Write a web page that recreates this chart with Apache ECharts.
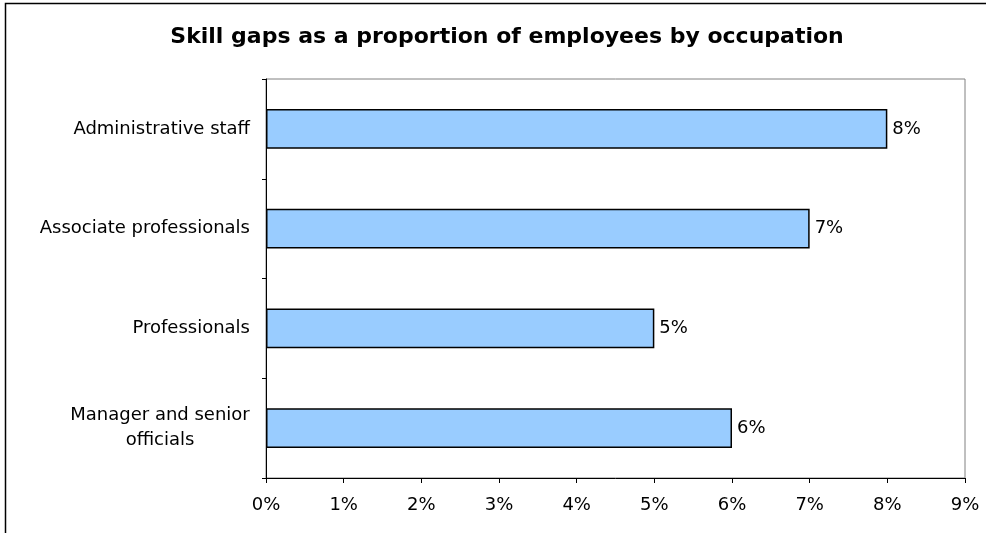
<!DOCTYPE html>
<html>
<head>
<meta charset="utf-8">
<script src="https://cdn.jsdelivr.net/npm/echarts@6/dist/echarts.min.js"></script>
<style>html,body{margin:0;padding:0;background:#fff;}#chart{width:986px;height:533px;}</style>
</head>
<body>
<div id="chart"></div>
<script>
const categories = ['Administrative staff', 'Associate professionals', 'Professionals', 'Manager and senior\nofficials'];
const values = [8, 7, 5, 6];
const xTicks = ['0%', '1%', '2%', '3%', '4%', '5%', '6%', '7%', '8%', '9%'];

const font = '"DejaVu Sans", Verdana, sans-serif';
const labelSize = 18;
// measure the widest line of multi-line labels so lines can be centred on each other
const mctx = document.createElement('canvas').getContext('2d');
mctx.font = labelSize + 'px ' + font;
let maxW = 0;
categories.forEach(c => { if (c.indexOf('\n') >= 0) c.split('\n').forEach(s => { maxW = Math.max(maxW, mctx.measureText(s).width); }); });

const chart = echarts.init(document.getElementById('chart'), null, {renderer: 'canvas'});
chart.setOption({
  animation: false,
  backgroundColor: '#fff',
  title: {
    text: 'Skill gaps as a proportion of employees by occupation',
    left: 502, top: 21, textAlign: 'center',
    textStyle: {fontFamily: font, fontWeight: 'bold', fontSize: 22, color: '#000'}
  },
  graphic: [{
    type: 'rect', silent: true,
    shape: {x: 5.5, y: 3.5, width: 1200, height: 800},
    style: {fill: 'none', stroke: '#000', lineWidth: 1.5}
  }],
  grid: {left: 266, top: 79, right: 21, bottom: 55, show: true, borderColor: '#808080', borderWidth: 1, containLabel: false},
  xAxis: {
    type: 'value', min: 0, max: 9, interval: 1,
    axisLine: {show: true, lineStyle: {color: '#000', width: 1}},
    axisTick: {show: true, length: 5, lineStyle: {color: '#000'}},
    splitLine: {show: false},
    axisLabel: {margin: 18, fontFamily: font, fontSize: labelSize, color: '#000',
      formatter: v => xTicks[Math.round(v)]}
  },
  yAxis: {
    type: 'category', inverse: true, data: categories,
    axisLine: {show: true, lineStyle: {color: '#000', width: 1}},
    axisTick: {show: true, length: 4, alignWithLabel: false, lineStyle: {color: '#000'}},
    axisLabel: {margin: 16, fontFamily: font, fontSize: labelSize, color: '#000', lineHeight: 25,
      formatter: v => v.indexOf('\n') >= 0 ? v.split('\n').map(s => '{c|' + s + '}').join('\n') : v,
      rich: {c: {width: Math.ceil(maxW), align: 'center', fontFamily: font, fontSize: labelSize, color: '#000', lineHeight: 25}}
    }
  },
  series: [{
    type: 'bar', data: values, barWidth: '40%',
    itemStyle: {color: '#99CCFF', borderColor: '#000', borderWidth: 1.5},
    label: {show: true, position: 'right', distance: 5, fontFamily: font, fontSize: labelSize, color: '#000',
      formatter: p => p.value + '%'}
  }]
});
</script>
</body>
</html>
